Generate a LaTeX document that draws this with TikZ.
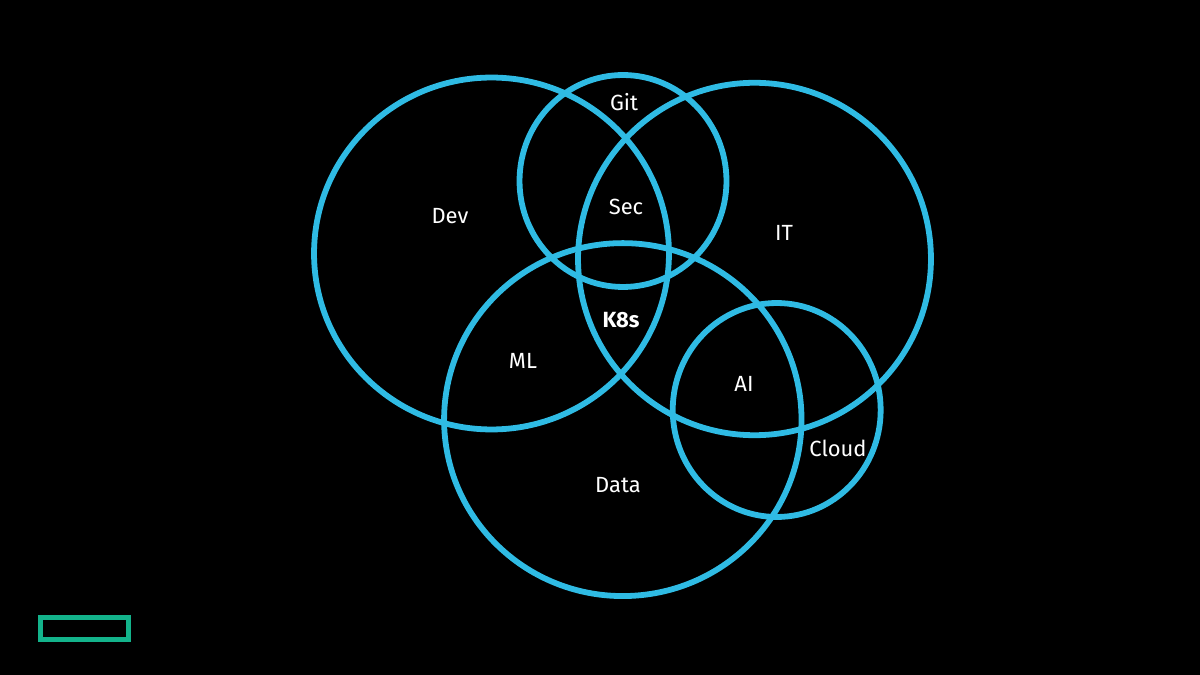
\documentclass[tikz,border=0pt]{standalone}
\usepackage{fontspec}
\usepackage{xcolor}
\usetikzlibrary{shapes.geometric}
\setmainfont{Fira Sans}
\definecolor{ringblue}{HTML}{2FBBE4}
\definecolor{logogreen}{HTML}{13B38B}
\tikzset{
  ring/.style n args={2}{ellipse, draw=ringblue, line width=3.3pt, inner sep=0pt, minimum width=#1, minimum height=#2},
  tag/.style={text=white, font=\fontsize{12.5}{14}\selectfont, inner sep=0pt},
}

\begin{document}
\begin{tikzpicture}[x=0.02cm, y=-0.02cm]
  \fill[black] (0, 0) rectangle (1200, 675);
  \useasboundingbox (0, 0) rectangle (1200, 675);

  \node[ring={7.1cm}{7.04cm}] (dev) at (491.5, 253.5) {};
  \node[ring={4.14cm}{4.24cm}] (git) at (623, 181) {};
  \node[ring={7.06cm}{7.05cm}] (it) at (754.5, 259) {};
  \node[ring={7.15cm}{7.06cm}] (data) at (622.8, 419.6) {};
  \node[ring={4.16cm}{4.28cm}] (cloud) at (776.7, 410) {};

  \node[tag] (devlabel) at (450, 216) {Dev};
  \node[tag] (gitlabel) at (624, 102) {Git};
  \node[tag] (seclabel) at (626, 207) {Sec};
  \node[tag] (itlabel) at (784, 233) {IT};
  \node[tag, font=\fontsize{12.5}{14}\selectfont\bfseries] (k8slabel) at (621, 320) {K8s};
  \node[tag] (mllabel) at (523, 361) {ML};
  \node[tag] (ailabel) at (744, 384) {AI};
  \node[tag] (cloudlabel) at (838, 448) {Cloud};
  \node[tag] (datalabel) at (618, 485) {Data};

  \node[draw=logogreen, line width=3.1pt, minimum width=1.76cm, minimum height=0.44cm, inner sep=0pt] (logo) at (84.5, 628.5) {};
\end{tikzpicture}
\end{document}
